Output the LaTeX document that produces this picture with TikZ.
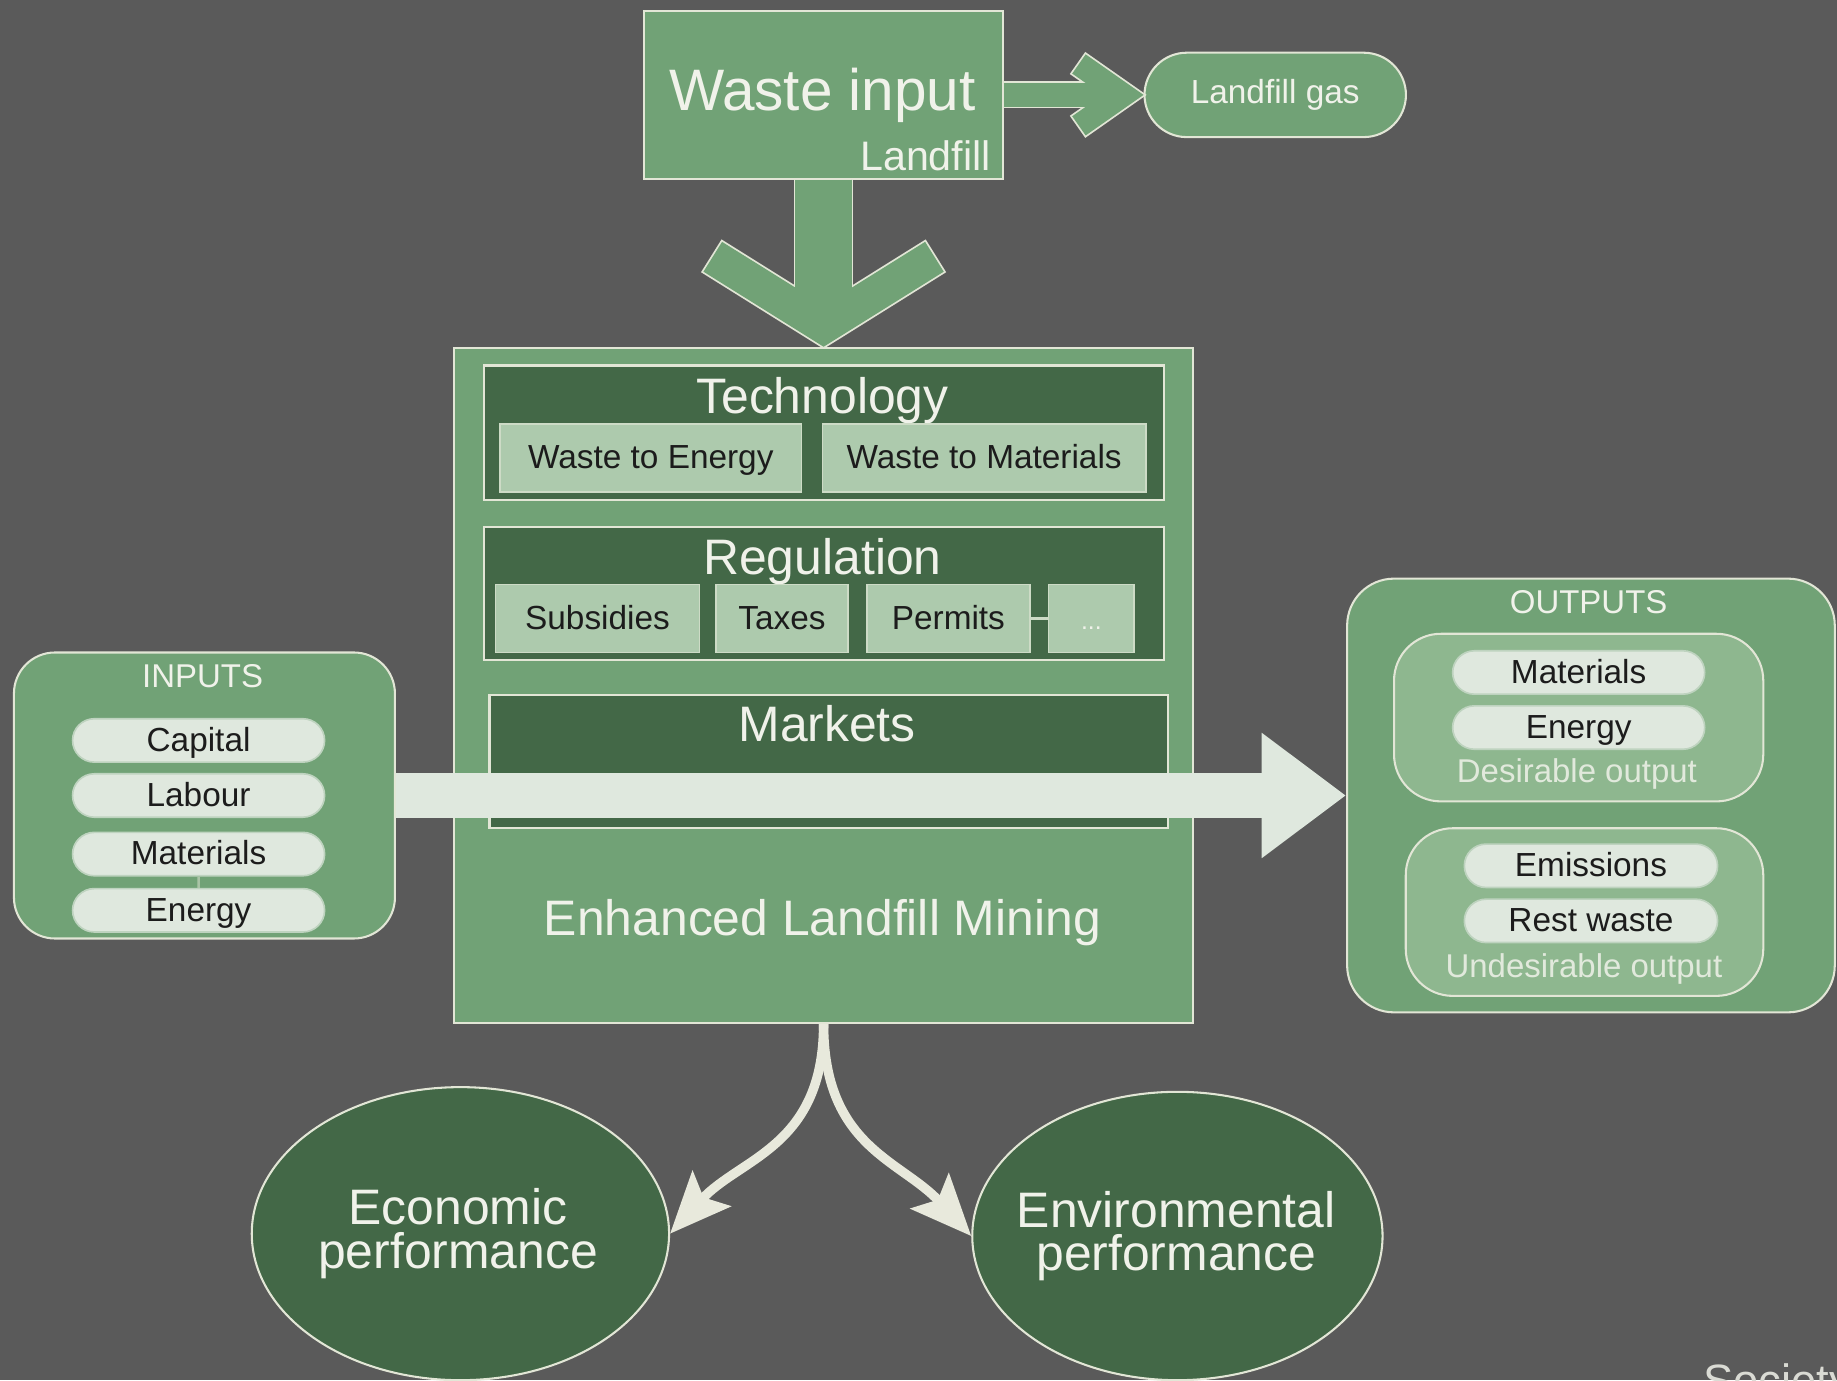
\documentclass[tikz,border=0pt]{standalone}
\usepackage{fontspec}
\setmainfont{Liberation Sans}
\usetikzlibrary{arrows.meta, shapes.misc, shapes.geometric}
\definecolor{bggray}{HTML}{5A5A5A}
\definecolor{midgreen}{HTML}{71A276}
\definecolor{darkgreen}{HTML}{436847}
\definecolor{boxgreen}{HTML}{ADCAAD}
\definecolor{subgreen}{HTML}{8EB78F}
\definecolor{pale}{HTML}{DFE8DE}
\definecolor{rim}{HTML}{E2E6D6}
\definecolor{paper}{HTML}{F0F2EA}
\definecolor{ink}{HTML}{1C1C1C}
\definecolor{cream}{HTML}{E8E9DC}
\newcommand{\fsz}[1]{\fontsize{#1}{#1}\selectfont}

\begin{document}
\begin{tikzpicture}[x=0.01cm, y=-0.01cm,
	panel/.style={draw=rim, fill=midgreen, line width=0.5pt},
	darkbox/.style={draw=rim, fill=darkgreen, line width=0.5pt, minimum width=5.8cm},
	subbox/.style={draw=rim!60!boxgreen, fill=boxgreen, line width=0.4pt, minimum height=0.58cm, text height=0.72em, text depth=0.2em, text=ink, font=\fsz{8.1}},
	pill/.style={rounded rectangle, draw=pale!70!midgreen, fill=pale, line width=0.4pt, minimum width=2.15cm, minimum height=0.37cm, inner sep=0pt, text height=0.72em, text depth=0.2em, text=ink, font=\fsz{8.1}},
	subpanel/.style={draw=rim, fill=subgreen, line width=0.5pt, rounded corners=0.4cm, minimum height=1.43cm},
	bigtitle/.style={text=paper, font=\fsz{12.1}, text height=0.72em, text depth=0.2em},
	smalltitle/.style={text=paper, font=\fsz{8}},
	perf/.style={ellipse, draw=rim, fill=darkgreen, line width=0.5pt, inner sep=0pt},
	perftext/.style={text=paper, align=center, font=\fontsize{12.1}{10.6}\selectfont}]
	% Background, boxes and arrows:
	\useasboundingbox (0,0) rectangle (1568,1178);
	\fill[bggray] (0,0) rectangle (1568,1178);
	\clip (0,0) rectangle (1568,1178);
	\node[panel, minimum width=3.06cm, minimum height=1.43cm](waste) at (703,81){};
	\node[bigtitle, font=\fsz{14.2}](wastetxt) at (702,85){Waste input};
	\node[text=paper, font=\fsz{10}, anchor=south east, inner xsep=3pt, inner ysep=2pt](landfill) at (waste.south east){Landfill};
	\node[rounded rectangle, panel, inner sep=0pt, minimum width=2.23cm, minimum height=0.72cm, text=paper, font=\fsz{8.1}](gas) at (1088.5,81){Landfill gas};
	\node[panel, minimum width=6.3cm, minimum height=5.76cm](elm) at (703,585){};
	\node[darkbox, minimum height=1.15cm](tech) at (703,369.5){};
	\node[bigtitle](techtitle) at (702,344){Technology};
	\node[subbox, minimum width=2.57cm](wte) at (555.5,391){Waste to Energy};
	\node[subbox, minimum width=2.76cm](wtm) at (840,391){Waste to Materials};
	\node[darkbox, minimum height=1.13cm](reg) at (703,506.5){};
	\node[bigtitle](regtitle) at (702,481){Regulation};
	\node[subbox, minimum width=1.74cm](sub) at (510,528){Subsidies};
	\node[subbox, minimum width=1.13cm](tax) at (667.5,528){Taxes};
	\node[subbox, minimum width=1.39cm](perm) at (809.5,528){Permits};
	\node[subbox, minimum width=0.73cm, text=paper, font=\fsz{6}](more) at (931.5,528){...};
	\draw[rim!60!boxgreen, line width=0.6pt] (perm) -- (more);
	\node[darkbox, minimum width=5.79cm, minimum height=1.14cm](mkt) at (707.5,650){};
	\node[bigtitle](mkttitle) at (706,624){Markets};
	\node[bigtitle](elmtitle) at (702,789){Enhanced Landfill Mining};
	\node[panel, rounded corners=0.35cm, minimum width=3.25cm, minimum height=2.44cm](inputs) at (174.5,679){};
	\node[smalltitle](intitle) at (173,577){INPUTS};
	\node[pill](capital) at (169.5,632){Capital};
	\node[pill](labour) at (169.5,679){Labour};
	\node[pill](inmat) at (169.5,729){Materials};
	\node[pill](inen) at (169.5,777){Energy};
	\draw[rim!50!midgreen, line width=0.6pt] (inmat) -- (inen);
	\node[panel, rounded corners=0.4cm, minimum width=4.16cm, minimum height=3.7cm](outputs) at (1358,679){};
	\node[smalltitle](outtitle) at (1356,514){OUTPUTS};
	\node[subpanel, minimum width=3.15cm](des) at (1347.5,612.5){};
	\node[pill](outmat) at (1347.5,574){Materials};
	\node[pill](outen) at (1347.5,621){Energy};
	\node[smalltitle, text=paper!85!subgreen](destitle) at (1346,661){Desirable output};
	\node[subpanel, minimum width=3.05cm](und) at (1352.5,778.5){};
	\node[pill, minimum width=2.16cm](emis) at (1358,739){Emissions};
	\node[pill, minimum width=2.16cm](rest) at (1358,786){Rest waste};
	\node[smalltitle, text=paper!85!subgreen](undtitle) at (1352,827){Undesirable output};
	\node[perf, minimum width=3.56cm, minimum height=2.5cm](eco) at (393,1053){};
	\node[perftext](ecotxt) at (391,1053){Economic\\performance};
	\node[perf, minimum width=3.5cm, minimum height=2.46cm](env) at (1005,1055){};
	\node[perftext](envtxt) at (1004,1055){Environmental\\performance};
	\node[text=paper!85!bggray, font=\fsz{11}, anchor=north west, inner sep=0pt](society) at (1453,1163){Society};
	% block arrows: rim pass first, then fill pass
	\path (gas.west) ++(-17.4,0) coordinate (gv) ++(-37.7,-26.4) coordinate (ga1);
	\path (gv) ++(-37.7,26.4) coordinate (ga2);
	\path (elm.north) ++(0,-17.7) coordinate (ev) ++(-94.6,-59.1) coordinate (ea1);
	\path (ev) ++(94.6,-59.1) coordinate (ea2);
	\draw[rim, line width=0.23cm] (waste.east) -- ([xshift=-0.1cm]gv);
	\draw[rim, line width=0.23cm, shorten <=-0.015cm, shorten >=-0.015cm] (ga1) -- (gv) -- (ga2);
	\draw[rim, line width=0.51cm] (waste.south) -- ([yshift=0.1cm]ev);
	\draw[rim, line width=0.33cm, shorten <=-0.015cm, shorten >=-0.015cm] (ea1) -- (ev) -- (ea2);
	\draw[midgreen, line width=0.2cm] (waste.east) -- ([xshift=-0.1cm]gv);
	\draw[midgreen, line width=0.2cm] (ga1) -- (gv) -- (ga2);
	\draw[midgreen, line width=0.48cm] (waste.south) -- ([yshift=0.1cm]ev);
	\draw[midgreen, line width=0.3cm] (ea1) -- (ev) -- (ea2);
	\draw[pale, line width=0.38cm, -{Triangle[length=0.72cm, width=1.02cm]}] (inputs.east) -- (outputs.west);
	\draw[cream, line width=0.08cm, -{Stealth[length=0.52cm, width=0.44cm, inset=0.1cm]}] (elm.south) .. controls +(0,105) and +(60,-65) .. (eco.east);
	\draw[cream, line width=0.08cm, -{Stealth[length=0.52cm, width=0.44cm, inset=0.1cm]}] (elm.south) .. controls +(0,105) and +(-60,-65) .. (env.west);
\end{tikzpicture}
\end{document}
